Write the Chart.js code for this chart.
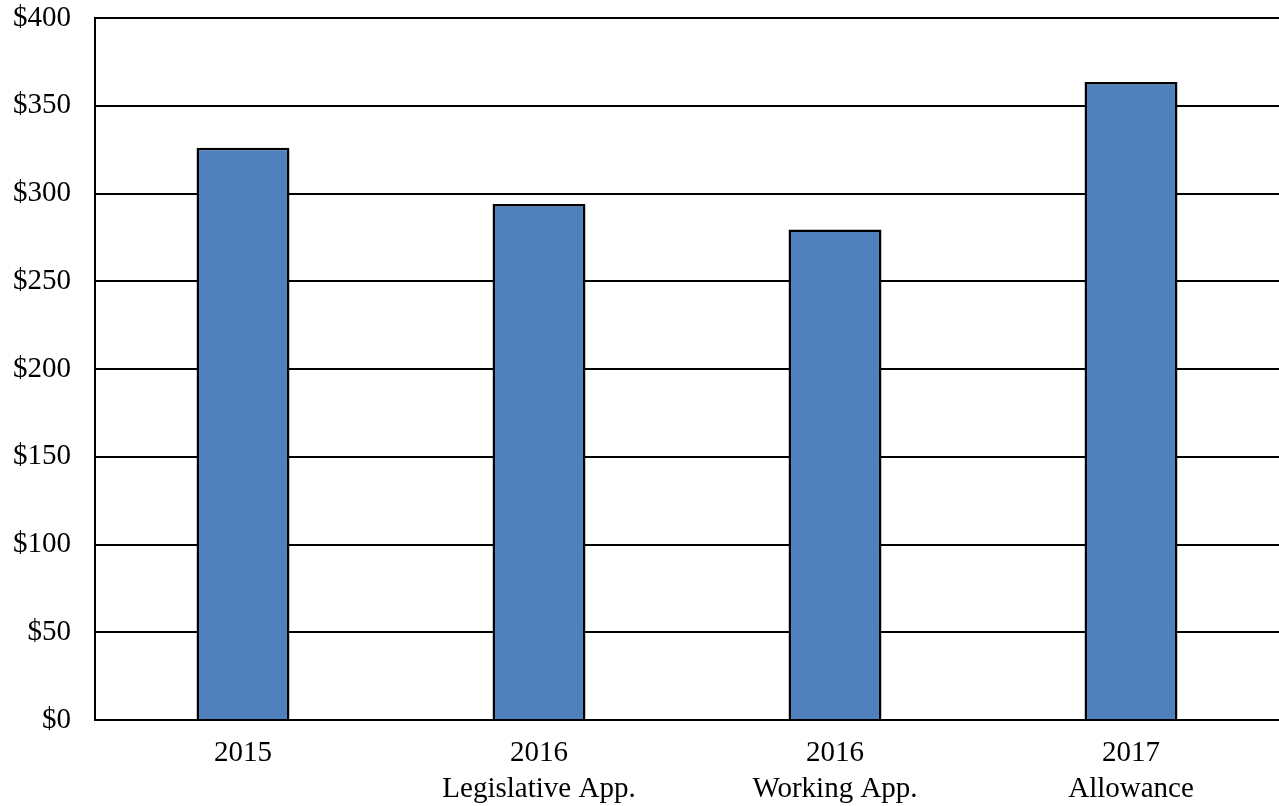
<!DOCTYPE html>
<html>
<head>
<meta charset="utf-8">
<script src="https://cdn.jsdelivr.net/npm/chart.js@4/dist/chart.umd.min.js"></script>
<style>
  html, body { margin: 0; padding: 0; background: #fff; }
  #wrap { width: 1279px; height: 806px; }
</style>
</head>
<body>
<div id="wrap"><canvas id="budgetChart" width="1279" height="806"></canvas></div>
<script>
const categories = [
    ["2015"],
    ["2016", "Legislative App."],
    ["2016", "Working App."],
    ["2017", "Allowance"]
];
const amounts = [326, 294, 279.5, 363.5];
const yTicks = [0, 50, 100, 150, 200, 250, 300, 350, 400];

const ctx = document.getElementById("budgetChart").getContext("2d");

const budgetChart = new Chart(ctx, {
    type: 'bar',
    data: {
        labels: categories,
        datasets: [{
            data: amounts,
            backgroundColor: '#4F81BD',
            borderColor: '#000000',
            borderWidth: 2.5,
            categoryPercentage: 1.0,
            barPercentage: 0.314
        }]
    },
    options: {
        responsive: false,
        animation: false,
        layout: {
            padding: { top: 18, right: 0, bottom: 0, left: 0 }
        },
        scales: {
            x: {
                grid: { display: false, drawTicks: false },
                border: { display: true, color: '#000', width: 2 },
                ticks: {
                    color: '#000',
                    font: { family: 'Liberation Serif', size: 29, lineHeight: 1.24 },
                    padding: 15,
                    maxRotation: 0
                },
                afterFit: (scale) => {
                    scale.height = 86;
                    scale.paddingLeft = 0;
                    scale.paddingRight = 0;
                }
            },
            y: {
                min: 0,
                max: 400,
                afterBuildTicks: (scale) => {
                    scale.ticks = yTicks.map(v => ({ value: v }));
                },
                grid: { color: '#000', lineWidth: 2, drawTicks: false },
                border: { display: true, color: '#000', width: 2 },
                ticks: {
                    color: '#000',
                    font: { family: 'Liberation Serif', size: 29 },
                    padding: 24,
                    callback: (v) => '$' + v
                },
                afterFit: (scale) => {
                    scale.width = 95;
                    scale.paddingTop = 0;
                    scale.paddingBottom = 0;
                }
            }
        },
        plugins: {
            legend: { display: false },
            tooltip: { enabled: false }
        }
    }
});
</script>
</body>
</html>
